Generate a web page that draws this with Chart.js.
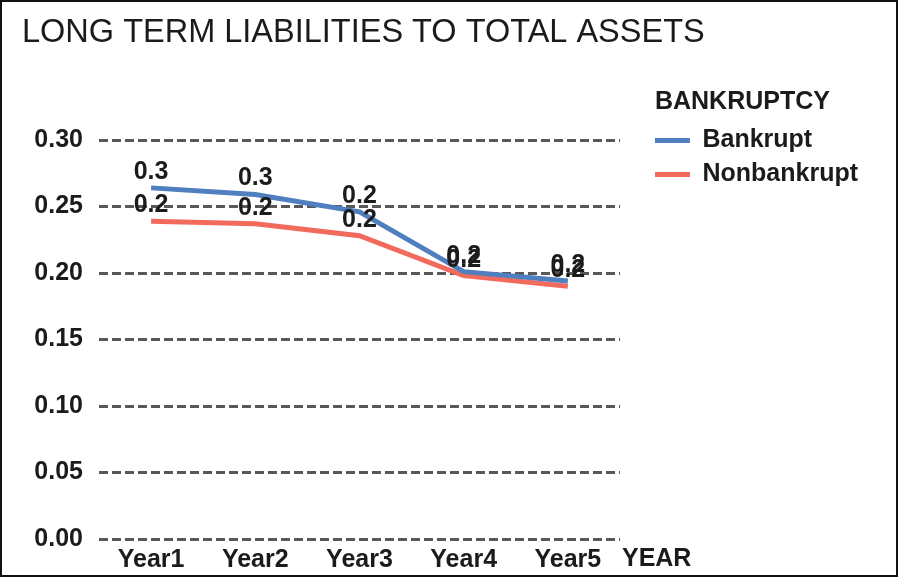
<!DOCTYPE html>
<html>
<head>
<meta charset="utf-8">
<script src="https://cdn.jsdelivr.net/npm/chart.js@4/dist/chart.umd.min.js"></script>
<style>
    html, body { margin: 0; padding: 0; background: #fff; }
    #frame {
        width: 898px;
        height: 577px;
        box-sizing: border-box;
        border: 2px solid #111;
        background: #fff;
    }
    #ratioChart { display: block; }
</style>
</head>
<body>
<div id="frame"><canvas id="ratioChart" width="894" height="573"></canvas></div>
<script>
// Long term liabilities / total assets, by year before the event
const years = ['Year1', 'Year2', 'Year3', 'Year4', 'Year5'];
const bankruptValues = [0.264, 0.259, 0.246, 0.201, 0.194];
const nonbankruptValues = [0.239, 0.237, 0.228, 0.198, 0.190];
const yTicks = [0.00, 0.05, 0.10, 0.15, 0.20, 0.25, 0.30];

const FONT = '"Liberation Sans", Arial, sans-serif';
const TEXT = '#1b1b1b';
const LEGEND_PAD = 9;

// prints each point's value (one decimal) just above it
const pointValues = {
    id: 'pointValues',
    afterDatasetsDraw(chart) {
        const ctx = chart.ctx;
        ctx.save();
        ctx.font = 'bold 25px ' + FONT;
        ctx.fillStyle = TEXT;
        ctx.textAlign = 'center';
        ctx.textBaseline = 'middle';
        chart.data.datasets.forEach((ds, i) => {
            chart.getDatasetMeta(i).data.forEach((pt, j) => {
                ctx.fillText(ds.data[j].toFixed(1), pt.x, pt.y - 16);
            });
        });
        ctx.restore();
    }
};

// axis name sits inline after the last category; legend heading lines up with the swatches
const extraText = {
    id: 'extraText',
    afterDraw(chart) {
        const ctx = chart.ctx;
        const area = chart.chartArea;
        const legend = chart.legend;
        ctx.save();
        ctx.font = 'bold 25px ' + FONT;
        ctx.fillStyle = TEXT;
        ctx.textAlign = 'left';
        ctx.textBaseline = 'middle';
        ctx.fillText('YEAR', area.right + 2, area.bottom + 20);
        ctx.fillText('BANKRUPTCY', legend.left + LEGEND_PAD, legend.top + 100);
        ctx.restore();
    }
};

new Chart(document.getElementById('ratioChart'), {
    type: 'line',
    data: {
        labels: years,
        datasets: [
            {
                label: 'Bankrupt',
                data: bankruptValues,
                borderColor: '#4f7fbf',
                backgroundColor: '#4f7fbf',
                borderWidth: 5,
                pointRadius: 0,
                tension: 0
            },
            {
                label: 'Nonbankrupt',
                data: nonbankruptValues,
                borderColor: '#f26a5c',
                backgroundColor: '#f26a5c',
                borderWidth: 5,
                pointRadius: 0,
                tension: 0
            }
        ]
    },
    options: {
        responsive: false,
        animation: false,
        layout: { padding: { left: 20, right: 28, top: 0, bottom: 0 } },
        plugins: {
            title: {
                display: true,
                text: 'LONG TERM LIABILITIES TO TOTAL ASSETS',
                align: 'start',
                color: TEXT,
                font: { family: FONT, size: 32.5, weight: 'normal' },
                padding: { top: 12, bottom: 87 }
            },
            legend: {
                position: 'right',
                align: 'start',
                maxWidth: 300,
                // heading space only; the heading text itself is drawn by extraText
                title: {
                    display: true,
                    text: ' ',
                    font: { family: FONT, size: 25, weight: 'bold' },
                    padding: { top: 87, bottom: 0 }
                },
                labels: {
                    boxWidth: 35,
                    boxHeight: 5,
                    padding: LEGEND_PAD,
                    color: TEXT,
                    font: { family: FONT, size: 25, weight: 'bold' },
                    // plain filled bars, no outline
                    generateLabels(chart) {
                        return Chart.defaults.plugins.legend.labels.generateLabels(chart)
                            .map(item => ({ ...item, lineWidth: 0 }));
                    }
                }
            },
            tooltip: { enabled: false }
        },
        scales: {
            x: {
                offset: true,
                afterFit(scale) { scale.height = 36; },
                grid: { display: false },
                border: { display: false },
                ticks: {
                    padding: -2,
                    color: TEXT,
                    font: { family: FONT, size: 25, weight: 'bold' }
                }
            },
            y: {
                min: 0,
                max: 0.30,
                afterFit(scale) { scale.width = 77; },
                afterBuildTicks(scale) {
                    scale.ticks = yTicks.map(v => ({ value: v }));
                },
                grid: {
                    drawTicks: false,
                    color: '#585858',
                    lineWidth: 3
                },
                border: { display: false, dash: [9, 4] },
                ticks: {
                    padding: 16,
                    color: TEXT,
                    font: { family: FONT, size: 25, weight: 'bold' },
                    callback: v => v.toFixed(2)
                }
            },
            gap: {
                position: 'right',
                display: true,
                grid: { display: false },
                border: { display: false },
                ticks: { display: false },
                afterFit(scale) { scale.width = 26; }
            }
        }
    },
    plugins: [pointValues, extraText]
});
</script>
</body>
</html>
